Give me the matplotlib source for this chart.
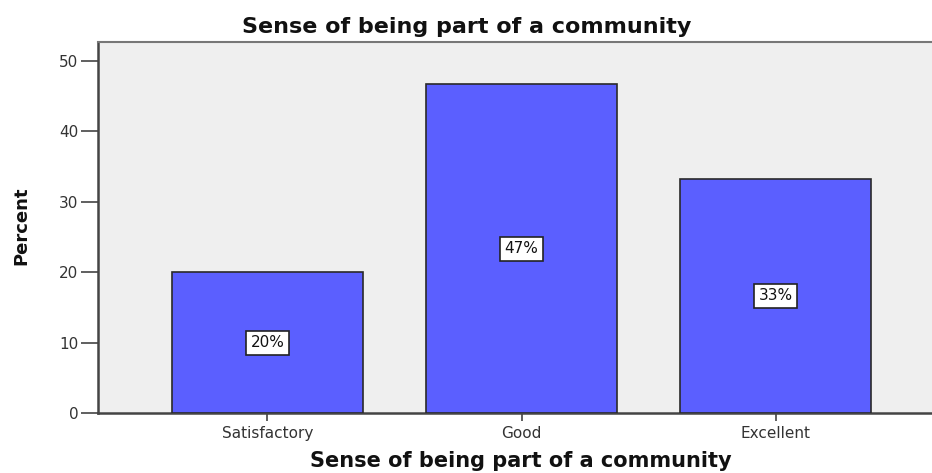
import matplotlib
matplotlib.use("Agg")
import matplotlib.pyplot as plt

categories = ["Satisfactory", "Good", "Excellent"]
percent = [20.0, 46.7, 33.3]
bar_labels = ["20%", "47%", "33%"]
y_ticks = [0, 10, 20, 30, 40, 50]
title = "Sense of being part of a community"

W, H = 932, 473
fig = plt.figure(figsize=(W / 100, H / 100), dpi=100)
fig.patch.set_facecolor("white")

left, right, top, bottom = 98, 945, 42, 413
ax = fig.add_axes([left / W, (H - bottom) / H, (right - left) / W, (bottom - top) / H])
ax.set_facecolor("#efefef")

x = range(len(categories))
ax.bar(x, percent, width=0.75, color="#5b5fff", edgecolor="#2a2a2a",
       linewidth=1.2, zorder=3)

for xi, v, lab in zip(x, percent, bar_labels):
    ax.text(xi, v / 2, lab, ha="center", va="center", fontsize=11,
            family="DejaVu Sans", color="#111111", zorder=4,
            bbox=dict(boxstyle="square,pad=0.3", facecolor="white",
                      edgecolor="#222222", linewidth=1.2))

ax.set_xlim(-0.667, 2.667)
ax.set_ylim(0, 52.7)
ax.set_yticks(y_ticks)
ax.set_xticks(list(x))
ax.set_xticklabels(categories)

ax.tick_params(axis="y", direction="out", length=12, width=1.2, color="#444444",
               labelsize=11, labelcolor="#333333", pad=2)
ax.tick_params(axis="x", direction="out", length=6, width=1.2, color="#444444",
               labelsize=11, labelcolor="#333333", pad=3)

for s in ("left", "bottom"):
    ax.spines[s].set_color("#444444")
    ax.spines[s].set_linewidth(1.8)
ax.spines["top"].set_color("#777777")
ax.spines["top"].set_linewidth(1.5)
ax.spines["right"].set_visible(False)

fig.text(467 / W, 1 - 27 / H, title, ha="center", va="center",
         fontsize=16, fontweight="bold", family="DejaVu Sans", color="#111111")
fig.text(521 / W, 1 - 461 / H, title, ha="center", va="center",
         fontsize=15, fontweight="bold", family="DejaVu Sans", color="#111111")
fig.text(21 / W, 1 - 226 / H, "Percent", ha="center", va="center", rotation=90,
         fontsize=13, fontweight="bold",
         family=["Liberation Sans Narrow", "DejaVu Sans"], color="#111111")

fig.savefig("out.png", dpi=100)
